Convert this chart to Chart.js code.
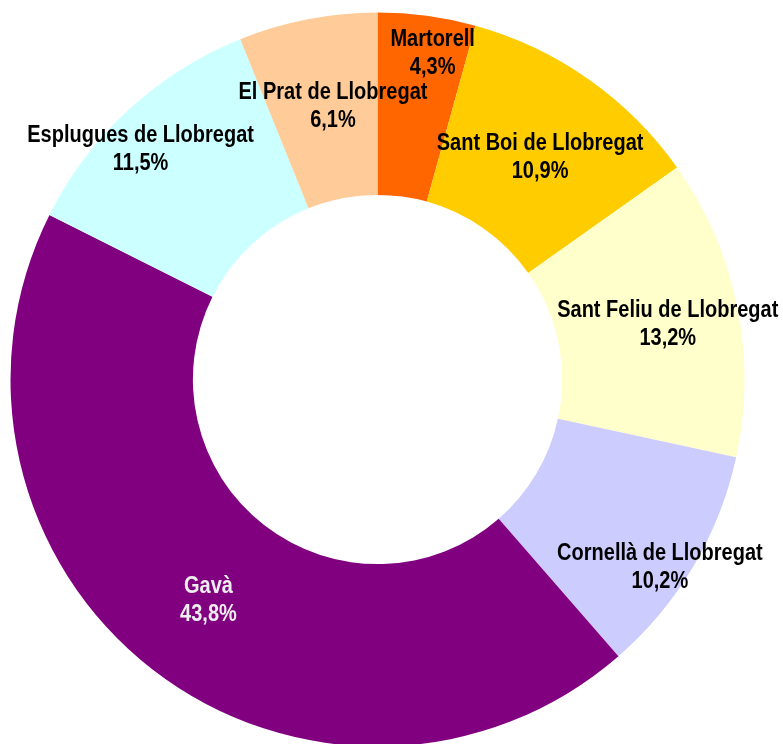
<!DOCTYPE html>
<html lang="ca">
<head>
<meta charset="utf-8">
<title>Distribució per municipis</title>
<script src="https://cdn.jsdelivr.net/npm/chart.js@4.4.1/dist/chart.umd.min.js"></script>
<style>
    html, body {
        margin: 0;
        padding: 0;
        width: 783px;
        height: 744px;
        overflow: hidden;
        background: #ffffff;
    }
    #chart-box {
        position: absolute;
        left: 0;
        top: 0;
        width: 783px;
        height: 759px;
    }
</style>
</head>
<body>
<div id="chart-box">
    <canvas id="donut-chart"></canvas>
</div>
<script>
// Dades del gràfic (sentit horari des de dalt)
const municipis = [
    "Martorell",
    "Sant Boi de Llobregat",
    "Sant Feliu de Llobregat",
    "Cornellà de Llobregat",
    "Gavà",
    "Esplugues de Llobregat",
    "El Prat de Llobregat"
];
const percentatges = [4.3, 10.9, 13.2, 10.2, 43.8, 11.5, 6.1];
const colors = ["#FF6600", "#FFCC00", "#FFFFCC", "#CCCCFF", "#800080", "#CCFFFF", "#FFCC99"];
const colorsText = ["#000000", "#000000", "#000000", "#000000", "#EEEEEE", "#000000", "#000000"];

// Desplaçament de cada etiqueta respecte del centre de l'anell (px)
const desplEtiquetes = [[18, -53], [4, 4], [20, 0], [45, 48], [0, 3], [-50, -27], [8, -2]];

document.addEventListener("DOMContentLoaded", function () {

    // Format amb coma decimal
    function formatPct(v) {
        return v.toFixed(1).replace(".", ",") + "%";
    }

    // Text una mica més alt que ample, com a l'original
    function textAlt(ctx, text, x, y) {
        ctx.save();
        ctx.translate(x, y);
        ctx.scale(1, 1.15);
        ctx.fillText(text, 0, 0);
        ctx.restore();
    }

    // Plugin per dibuixar les etiquetes dins de cada sector
    const etiquetesPlugin = {
        id: "etiquetes",
        afterDatasetsDraw: function (chart) {
            const ctx = chart.ctx;
            const meta = chart.getDatasetMeta(0);
            ctx.save();
            ctx.font = "bold 20px 'Liberation Sans', Arial, sans-serif";
            ctx.textAlign = "center";
            ctx.textBaseline = "middle";
            meta.data.forEach(function (arc, i) {
                const p = arc.getProps(["x", "y", "startAngle", "endAngle", "innerRadius", "outerRadius"], true);
                const angle = (p.startAngle + p.endAngle) / 2;
                const r = (p.innerRadius + p.outerRadius) / 2;
                const cx = p.x + Math.cos(angle) * r + desplEtiquetes[i][0];
                const cy = p.y + Math.sin(angle) * r + desplEtiquetes[i][1];
                ctx.fillStyle = colorsText[i];
                textAlt(ctx, municipis[i], cx, cy - 14);
                textAlt(ctx, formatPct(percentatges[i]), cx, cy + 14);
            });
            ctx.restore();
        }
    };

    const canvas = document.getElementById("donut-chart");
    new Chart(canvas.getContext("2d"), {
        type: "doughnut",
        data: {
            labels: municipis,
            datasets: [{
                data: percentatges,
                backgroundColor: colors,
                borderWidth: 0,
                hoverOffset: 0
            }]
        },
        options: {
            responsive: true,
            maintainAspectRatio: false,
            animation: false,
            radius: 367,
            cutout: "50.3%",
            layout: { padding: { left: 0, top: 0, right: 28, bottom: 0 } },
            plugins: {
                legend: { display: false },
                tooltip: { enabled: false }
            }
        },
        plugins: [etiquetesPlugin]
    });
});
</script>
</body>
</html>
